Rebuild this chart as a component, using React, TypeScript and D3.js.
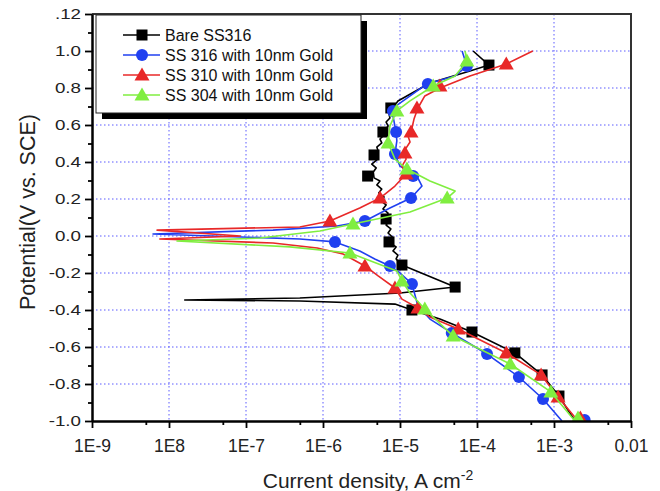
import React, { useEffect, useRef } from 'react';
import * as d3 from 'd3';

// [current density (A/cm2), potential (V vs SCE)]
type Pt = [number, number];

const xTickValues = [1e-9, 1e-8, 1e-7, 1e-6, 1e-5, 1e-4, 1e-3, 1e-2];
const xTickLabels = ['1E-9', '1E8', '1E-7', '1E-6', '1E-5', '1E-4', '1E-3', '0.01'];
const xMinorTicks = [5e-9, 5e-8, 5e-7, 5e-6, 5e-5, 5e-4, 5e-3];
const yTickValues = [-1.0, -0.8, -0.6, -0.4, -0.2, 0.0, 0.2, 0.4, 0.6, 0.8, 1.0, 1.2];
const yTickLabels = ['-1.0', '-0.8', '-0.6', '-0.4', '-0.2', '0.0', '0.2', '0.4', '0.6', '0.8', '1.0', '.12'];
const yMinorTicks = [-0.9, -0.7, -0.5, -0.3, -0.1, 0.1, 0.3, 0.5, 0.7, 0.9, 1.1];

const seriesNames = ['Bare SS316', 'SS 316 with 10nm Gold', 'SS 310 with 10nm Gold', 'SS 304 with 10nm Gold'];

const bareLine: Pt[] = [
  [1.87e-3, -1.0], [1.16e-3, -0.865], [7.0e-4, -0.751], [3.1e-4, -0.632], [8.6e-5, -0.519],
  [3.3e-5, -0.449], [1.43e-5, -0.4], [8.6e-6, -0.368], [5.0e-7, -0.351], [1.6e-8, -0.346],
  [5.0e-7, -0.335], [1.0e-5, -0.308], [5.2e-5, -0.276], [1.06e-5, -0.157], [8.9e-6, -0.124],
  [9.4e-6, -0.103], [8.1e-6, -0.081], [8.9e-6, -0.059], [7.4e-6, -0.038], [7.9e-6, -0.005],
  [7.0e-6, 0.016], [7.6e-6, 0.038], [6.6e-6, 0.059], [7.2e-6, 0.081], [6.6e-6, 0.103],
  [7.0e-6, 0.124], [6.0e-6, 0.146], [6.6e-6, 0.168], [5.7e-6, 0.189], [6.2e-6, 0.211],
  [5.3e-6, 0.232], [5.8e-6, 0.254], [5.0e-6, 0.276], [5.5e-6, 0.297], [4.6e-6, 0.314],
  [4.5e-6, 0.346], [4.9e-6, 0.368], [4.3e-6, 0.389], [5.0e-6, 0.411], [4.6e-6, 0.432],
  [5.2e-6, 0.459], [5.0e-6, 0.481], [5.8e-6, 0.503], [5.5e-6, 0.524], [6.2e-6, 0.546],
  [6.4e-6, 0.573], [7.0e-6, 0.595], [6.6e-6, 0.616], [7.4e-6, 0.638], [7.2e-6, 0.659],
  [7.9e-6, 0.686], [9.4e-6, 0.73], [2.45e-5, 0.827], [8.1e-5, 0.892], [1.43e-4, 0.924],
  [8.9e-5, 1.0],
];
const bareMarks: Pt[] = [
  [1.43e-4, 0.924], [7.6e-6, 0.692], [6.0e-6, 0.562], [4.6e-6, 0.438], [3.8e-6, 0.324],
  [6.6e-6, 0.092], [7.2e-6, -0.032], [1.06e-5, -0.157], [5.2e-5, -0.276], [1.43e-5, -0.4],
  [8.6e-5, -0.519], [3.1e-4, -0.632], [7.0e-4, -0.751], [1.16e-3, -0.865],
];

const ss316Line: Pt[] = [
  [1.27e-3, -1.0], [7.2e-4, -0.881], [3.5e-4, -0.762], [1.35e-4, -0.638], [4.7e-5, -0.524],
  [2.45e-5, -0.449], [1.71e-5, -0.378], [1.43e-5, -0.259], [1.0e-5, -0.2], [7.4e-6, -0.162],
  [4.7e-6, -0.124], [3.0e-6, -0.081], [1.43e-6, -0.032], [5.0e-7, -0.016], [6.2e-9, 0.011],
  [2.24e-7, 0.032], [1.52e-6, 0.054], [3.5e-6, 0.081], [7.4e-6, 0.151], [1.39e-5, 0.205],
  [1.93e-5, 0.27], [1.66e-5, 0.324], [1.0e-5, 0.378], [8.6e-6, 0.443], [9.1e-6, 0.514],
  [8.9e-6, 0.562], [8.1e-6, 0.649], [8.9e-6, 0.703], [2.24e-5, 0.822], [5.2e-5, 0.865],
  [7.4e-5, 0.919], [6.4e-5, 1.0],
];
const ss316Marks: Pt[] = [
  [7.4e-5, 0.919], [2.3e-5, 0.822], [8.1e-6, 0.676], [8.9e-6, 0.562], [8.6e-6, 0.443],
  [1.48e-5, 0.324], [1.39e-5, 0.205], [3.5e-6, 0.081], [1.43e-6, -0.032], [7.4e-6, -0.162],
  [1.43e-5, -0.259], [4.7e-5, -0.524], [1.35e-4, -0.638], [3.5e-4, -0.762], [7.2e-4, -0.881],
  [2.5e-3, -0.995],
];

const ss310Line: Pt[] = [
  [2.05e-3, -1.0], [1.13e-3, -0.87], [6.8e-4, -0.751], [2.4e-4, -0.632], [5.7e-5, -0.503],
  [2.45e-5, -0.438], [1.71e-5, -0.389], [1.06e-5, -0.341], [8.6e-6, -0.281], [5.2e-6, -0.216],
  [3.5e-6, -0.162], [1.82e-6, -0.097], [8.4e-7, -0.065], [2.24e-7, -0.038], [7.6e-9, -0.016],
  [8.4e-8, 0.0], [7.0e-9, 0.032], [5.0e-7, 0.049], [1.23e-6, 0.081], [3.0e-6, 0.151],
  [5.5e-6, 0.205], [8.6e-6, 0.27], [1.2e-5, 0.335], [1.06e-5, 0.378], [1.2e-5, 0.416],
  [1.13e-5, 0.459], [1.35e-5, 0.508], [1.27e-5, 0.541], [1.43e-5, 0.584], [1.52e-5, 0.632],
  [1.71e-5, 0.692], [2.1e-5, 0.757], [3.3e-5, 0.8], [8.1e-5, 0.865], [2.4e-4, 0.93],
  [5.3e-4, 1.0],
];
const ss310Marks: Pt[] = [
  [2.4e-4, 0.93], [3.3e-5, 0.811], [1.66e-5, 0.692], [1.39e-5, 0.562], [1.16e-5, 0.449],
  [1.2e-5, 0.335], [5.5e-6, 0.205], [1.23e-6, 0.081], [3.5e-6, -0.162], [8.6e-6, -0.281],
  [1.71e-5, -0.389], [5.7e-5, -0.503], [2.4e-4, -0.632], [6.8e-4, -0.751], [1.13e-3, -0.87],
  [2.2e-3, -0.984],
];

const ss304Line: Pt[] = [
  [1.87e-3, -1.0], [9.1e-4, -0.843], [2.7e-4, -0.692], [4.9e-5, -0.541], [2.1e-5, -0.395],
  [1.35e-5, -0.308], [1.06e-5, -0.243], [9.1e-6, -0.189], [2.24e-6, -0.092], [3.7e-7, -0.059],
  [1.27e-8, -0.027], [1.52e-7, -0.011], [9.1e-7, 0.027], [2.45e-6, 0.065], [1.35e-5, 0.13],
  [4.1e-5, 0.205], [5.2e-5, 0.243], [2.45e-5, 0.297], [1.23e-5, 0.362], [8.6e-6, 0.416],
  [7.0e-6, 0.503], [7.4e-6, 0.595], [9.1e-6, 0.676], [1.35e-5, 0.73], [2.7e-5, 0.811],
  [5.2e-5, 0.865], [7.4e-5, 0.946], [7.0e-5, 1.0],
];
const ss304Marks: Pt[] = [
  [7.4e-5, 0.946], [2.7e-5, 0.811], [9.1e-6, 0.676], [7.0e-6, 0.503], [1.23e-5, 0.362],
  [4.1e-5, 0.205], [2.45e-6, 0.065], [2.24e-6, -0.092], [1.06e-5, -0.243], [2.1e-5, -0.395],
  [4.9e-5, -0.541], [2.7e-4, -0.692], [9.1e-4, -0.843], [2.05e-3, -0.984],
];

type Sym = 'square' | 'circle' | 'triangle';
const series: { name: string; color: string; sym: Sym; line: Pt[]; marks: Pt[] }[] = [
  { name: seriesNames[0], color: '#000000', sym: 'square', line: bareLine, marks: bareMarks },
  { name: seriesNames[1], color: '#2040f0', sym: 'circle', line: ss316Line, marks: ss316Marks },
  { name: seriesNames[2], color: '#e82828', sym: 'triangle', line: ss310Line, marks: ss310Marks },
  { name: seriesNames[3], color: '#80ee40', sym: 'triangle', line: ss304Line, marks: ss304Marks },
];

const FONT = '"Liberation Sans", Arial, sans-serif';
const W = 660;
const H = 491;

function drawSymbol(g: d3.Selection<SVGGElement, unknown, null, undefined>, sym: Sym, cx: number, cy: number, color: string) {
  if (sym === 'square') {
    g.append('rect').attr('x', cx - 5.5).attr('y', cy - 5.5).attr('width', 11).attr('height', 11).attr('fill', color);
  } else if (sym === 'circle') {
    g.append('circle').attr('cx', cx).attr('cy', cy).attr('r', 6).attr('fill', color);
  } else {
    g.append('path')
      .attr('d', `M${cx},${cy - 7.5}L${cx + 7.5},${cy + 5.5}L${cx - 7.5},${cy + 5.5}Z`)
      .attr('fill', color);
  }
}

export default function App() {
  const svgRef = useRef<SVGSVGElement>(null);

  useEffect(() => {
    if (!svgRef.current) return;
    const svg = d3.select(svgRef.current);
    svg.selectAll('*').remove();

    const left = 92, right = 631, top = 14, bottom = 421;
    const x = d3.scaleLog().domain([1e-9, 1e-2]).range([left, right]);
    const y = d3.scaleLinear().domain([-1, 1.2]).range([bottom, top]);

    svg.append('rect').attr('width', W).attr('height', H).attr('fill', '#fff');

    // Grid
    const grid = svg.append('g').attr('stroke', '#5a5aff').attr('stroke-width', 1).attr('stroke-dasharray', '1.5,2.5');
    xTickValues.slice(1, -1).forEach(v => {
      grid.append('line').attr('x1', x(v)).attr('x2', x(v)).attr('y1', top).attr('y2', bottom);
    });
    yTickValues.slice(1, -1).forEach(v => {
      grid.append('line').attr('x1', left).attr('x2', right).attr('y1', y(v)).attr('y2', y(v));
    });

    // Frame top/right
    svg.append('path')
      .attr('d', `M${left},${top}H${right}V${bottom}`)
      .attr('fill', 'none').attr('stroke', '#333').attr('stroke-width', 2);

    // Curves
    svg.append('clipPath').attr('id', 'plot-clip')
      .append('rect').attr('x', left).attr('y', top).attr('width', right - left).attr('height', bottom - top);
    const plot = svg.append('g').attr('clip-path', 'url(#plot-clip)');
    const line = d3.line<Pt>().x(d => x(d[0])).y(d => y(d[1]));
    series.forEach(s => {
      plot.append('path').datum(s.line)
        .attr('fill', 'none').attr('stroke', s.color).attr('stroke-width', 1.6)
        .attr('stroke-linejoin', 'round').attr('d', line);
      const mg = plot.append('g');
      s.marks.forEach(m => drawSymbol(mg, s.sym, x(m[0]), y(m[1]), s.color));
    });

    // Axes
    const xAxis = svg.append('g').attr('transform', `translate(0,${bottom})`)
      .call(d3.axisBottom(x).tickValues(xTickValues).tickFormat((_, i) => xTickLabels[i]).tickSize(7).tickSizeOuter(0).tickPadding(12));
    svg.append('g').attr('transform', `translate(0,${bottom})`)
      .call(d3.axisBottom(x).tickValues(xMinorTicks).tickFormat(() => '').tickSize(4).tickSizeOuter(0))
      .select('.domain').remove();
    const yAxis = svg.append('g').attr('transform', `translate(${left},0)`)
      .call(d3.axisLeft(y).tickValues(yTickValues).tickFormat((_, i) => yTickLabels[i]).tickSize(7).tickSizeOuter(0).tickPadding(4));
    svg.append('g').attr('transform', `translate(${left},0)`)
      .call(d3.axisLeft(y).tickValues(yMinorTicks).tickFormat(() => '').tickSize(4).tickSizeOuter(0))
      .select('.domain').remove();
    [xAxis, yAxis].forEach(a => {
      a.select('.domain').attr('stroke', '#000').attr('stroke-width', 2.5);
    });
    svg.selectAll('.tick line').attr('stroke', '#000').attr('stroke-width', 1.8);
    xAxis.selectAll('text').attr('font-family', FONT).attr('font-size', 17.5).attr('fill', '#222');
    // y labels in the original are rendered wide: stretch them horizontally
    yAxis.selectAll<SVGTextElement, unknown>('text')
      .attr('font-family', FONT).attr('font-size', 15).attr('fill', '#222')
      .each(function () {
        const w = this.getComputedTextLength();
        d3.select(this).attr('textLength', w * 1.25).attr('lengthAdjust', 'spacingAndGlyphs');
      });

    // Legend
    const lg = svg.append('g');
    lg.append('rect').attr('x', 102).attr('y', 21).attr('width', 265).attr('height', 98).attr('fill', '#000');
    lg.append('rect').attr('x', 96).attr('y', 15).attr('width', 265).attr('height', 98)
      .attr('fill', '#fff').attr('stroke', '#222').attr('stroke-width', 1);
    series.forEach((s, i) => {
      const cy = 35 + i * 20;
      lg.append('line').attr('x1', 123).attr('x2', 160).attr('y1', cy).attr('y2', cy)
        .attr('stroke', s.color).attr('stroke-width', 1.6);
      drawSymbol(lg, s.sym, 142, cy, s.color);
      lg.append('text').attr('x', 165).attr('y', cy + 5.5)
        .attr('font-family', FONT).attr('font-size', 16).attr('fill', '#111').text(s.name);
    });

    // Axis titles
    const xt = svg.append('text').attr('x', 368).attr('y', 488).attr('text-anchor', 'middle')
      .attr('font-family', FONT).attr('font-size', 21).attr('fill', '#222');
    xt.append('tspan').text('Current density, A cm');
    xt.append('tspan').attr('dy', -8).attr('font-size', 14).text('-2');

    svg.append('text').attr('transform', 'translate(35,212) rotate(-90)').attr('text-anchor', 'middle')
      .attr('font-family', FONT).attr('font-size', 21.5).attr('fill', '#222')
      .text('Potential(V vs. SCE)');
  }, []);

  return (
    <svg ref={svgRef} width={W} height={H} style={{ position: 'absolute', left: 0, top: 0, display: 'block' }} />
  );
}
